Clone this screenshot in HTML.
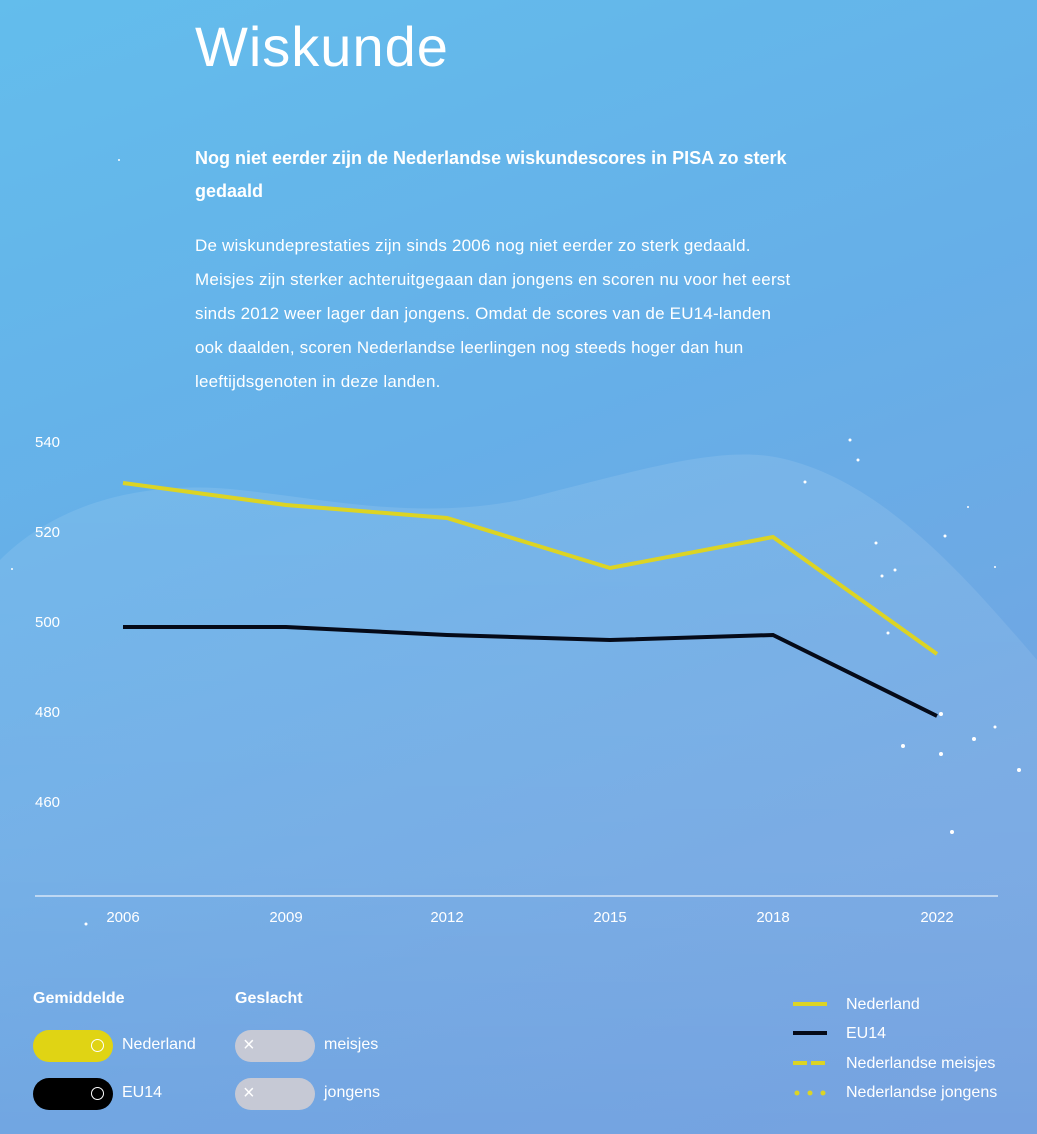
<!DOCTYPE html>
<html><head><meta charset="utf-8"><style>
body{margin:0;width:1037px;height:1134px;overflow:hidden;font-family:"Liberation Sans",sans-serif;color:#fff;
background:linear-gradient(160deg,#63bdec 0%,#66afe8 40%,#71a6e2 75%,#76a2e0 100%);position:relative}
.a{position:absolute}
h1{position:absolute;left:195px;top:14px;margin:0;font-weight:400;font-size:56px;letter-spacing:1px}
.sub{left:195px;top:142px;width:660px;font-weight:bold;font-size:18px;line-height:33px}
.p{left:195px;top:229px;width:700px;font-size:17px;line-height:34px;white-space:nowrap;letter-spacing:0.2px}
.tog{width:80px;height:32px;border-radius:16px}
.lbl{font-size:16px}
</style></head><body>
<svg class="a" style="left:0;top:0" width="1037" height="1134">
<defs><linearGradient id="g" x1="0" y1="0" x2="0" y2="1"><stop offset="0" stop-color="#fff" stop-opacity="0.1"/><stop offset="0.6" stop-color="#fff" stop-opacity="0.07"/><stop offset="1" stop-color="#fff" stop-opacity="0"/></linearGradient></defs>
<path d="M0,560 C60,500 150,480 240,490 C330,500 420,520 520,500 C640,470 720,445 780,458 C880,480 960,570 1037,660 L1037,1134 L0,1134Z" fill="url(#g)"/>
<g fill="#fff" font-size="15" font-family="Liberation Sans,sans-serif">
<text x="35" y="447">540</text><text x="35" y="537">520</text><text x="35" y="627">500</text><text x="35" y="717">480</text><text x="35" y="807">460</text>
<g text-anchor="middle"><text x="123" y="922">2006</text><text x="286" y="922">2009</text><text x="447" y="922">2012</text><text x="610" y="922">2015</text><text x="773" y="922">2018</text><text x="937" y="922">2022</text></g>
</g>
<line x1="35" y1="896" x2="998" y2="896" stroke="#d6e6f7" stroke-width="1.5"/>
<polyline points="123,483 286,505 447,518 610,568 773,537 937,654" fill="none" stroke="#dcd424" stroke-width="4"/>
<polyline points="123,627 286,627 447,635 610,640 773,635 937,716" fill="none" stroke="#050a18" stroke-width="4"/>
<g fill="#fff"><circle cx="850" cy="440" r="1.5"/><circle cx="858" cy="460" r="1.5"/><circle cx="805" cy="482" r="1.5"/><circle cx="876" cy="543" r="1.5"/><circle cx="882" cy="576" r="1.5"/><circle cx="895" cy="570" r="1.5"/><circle cx="945" cy="536" r="1.5"/><circle cx="888" cy="633" r="1.5"/><circle cx="941" cy="714" r="2"/><circle cx="903" cy="746" r="2"/><circle cx="941" cy="754" r="2"/><circle cx="974" cy="739" r="2"/><circle cx="995" cy="727" r="1.5"/><circle cx="1019" cy="770" r="2"/><circle cx="952" cy="832" r="2"/><circle cx="86" cy="924" r="1.5"/><circle cx="119" cy="160" r="1"/><circle cx="12" cy="569" r="1"/><circle cx="968" cy="507" r="1"/><circle cx="995" cy="567" r="1"/></g>
<line x1="793" y1="1004" x2="827" y2="1004" stroke="#dcd424" stroke-width="4"/>
<line x1="793" y1="1033" x2="827" y2="1033" stroke="#050a18" stroke-width="4"/>
<line x1="793" y1="1063" x2="827" y2="1063" stroke="#dcd424" stroke-width="4" stroke-dasharray="14,4"/>
<g fill="#dcd424"><circle cx="797" cy="1093" r="2.5"/><circle cx="810" cy="1093" r="2.5"/><circle cx="823" cy="1093" r="2.5"/></g>
</svg>
<h1>Wiskunde</h1>
<div class="a sub">Nog niet eerder zijn de Nederlandse wiskundescores in PISA zo sterk<br>gedaald</div>
<div class="a p">De wiskundeprestaties zijn sinds 2006 nog niet eerder zo sterk gedaald.<br>Meisjes zijn sterker achteruitgegaan dan jongens en scoren nu voor het eerst<br>sinds 2012 weer lager dan jongens. Omdat de scores van de EU14-landen<br>ook daalden, scoren Nederlandse leerlingen nog steeds hoger dan hun<br>leeftijdsgenoten in deze landen.</div>
<div class="a" style="left:33px;top:990px;font-weight:bold;font-size:16px">Gemiddelde</div>
<div class="a" style="left:235px;top:990px;font-weight:bold;font-size:16px">Geslacht</div>
<div class="a tog" style="left:33px;top:1030px;background:#e0d414"></div>
<div class="a" style="left:91px;top:1039px;width:11px;height:11px;border:1.5px solid #fff;border-radius:50%"></div>
<div class="a lbl" style="left:122px;top:1036px">Nederland</div>
<div class="a tog" style="left:33px;top:1078px;background:#000"></div>
<div class="a" style="left:91px;top:1087px;width:11px;height:11px;border:1.5px solid #fff;border-radius:50%"></div>
<div class="a lbl" style="left:122px;top:1084px">EU14</div>
<div class="a tog" style="left:235px;top:1030px;background:#c6c9d5"></div>
<div class="a" style="left:243px;top:1034px;font-size:20px">×</div>
<div class="a lbl" style="left:324px;top:1036px">meisjes</div>
<div class="a tog" style="left:235px;top:1078px;background:#c6c9d5"></div>
<div class="a" style="left:243px;top:1082px;font-size:20px">×</div>
<div class="a lbl" style="left:324px;top:1084px">jongens</div>
<div class="a lbl" style="left:846px;top:996px">Nederland</div>
<div class="a lbl" style="left:846px;top:1025px">EU14</div>
<div class="a lbl" style="left:846px;top:1055px">Nederlandse meisjes</div>
<div class="a lbl" style="left:846px;top:1084px">Nederlandse jongens</div>
</body></html>
